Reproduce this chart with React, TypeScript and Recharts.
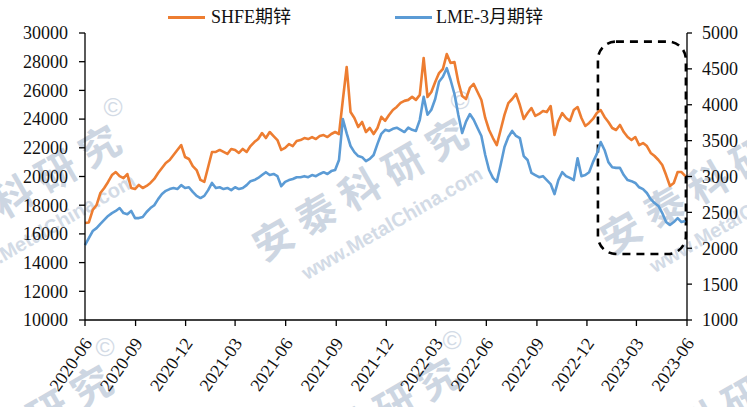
import { LineChart, Line, XAxis, YAxis, ReferenceArea } from "recharts";

// weekly closes, first week starting 2020-06-01
const startDate = "2020-06-01";

// SHFE zinc futures, CNY/t (left axis)
const shfeZinc = [
  16760, 16800, 17660, 18010, 18850, 19200, 19620, 20100, 20310, 20030,
  19890, 20170, 19200, 19130, 19410, 19200, 19340, 19550, 19830, 20240,
  20590, 20940, 21150, 21500, 21850, 22190, 21360, 21220, 20730, 20450,
  19760, 19620, 20660, 21710, 21710, 21850, 21710, 21570, 21920, 21850,
  21640, 21920, 21710, 22120, 22400, 22610, 23030, 22680, 23100, 22820,
  22540, 21850, 21990, 22260, 22120, 22470, 22540, 22680, 22610, 22750,
  22610, 22820, 22890, 22750, 22960, 23100, 22960, 25330, 27630, 24490,
  24080, 23450, 23800, 23100, 23380, 22960, 23380, 24160, 23880, 24290,
  24640, 24850, 25130, 25270, 25340, 25550, 25340, 25690, 28260, 25540,
  25890, 26590, 27210, 27490, 28530, 27910, 27980, 26590, 25610, 25400,
  26170, 26450, 25890, 25330, 24080, 23240, 22680, 22190, 23240, 24290,
  25120, 25400, 25750, 24980, 24010, 24420, 24770, 24220, 24360, 24560,
  24490, 24910, 22890, 23870, 24420, 24080, 23870, 24630, 24840, 24080,
  23520, 23730, 24010, 24420, 24630, 24150, 23800, 23380, 23240, 23590,
  23100, 22750, 22540, 22750, 22190, 22330, 22120, 21640, 21430, 21150,
  20800, 20100, 19340, 19550, 20310, 20310, 20030,
];

// LME 3-month zinc, USD/t (right axis)
const lmeZinc = [
  2045, 2140, 2240, 2280, 2340, 2395, 2450, 2490, 2520, 2560,
  2490, 2475, 2520, 2420, 2420, 2435, 2505, 2560, 2600, 2685,
  2755, 2800, 2825, 2840, 2825, 2880, 2840, 2850, 2785, 2730,
  2700, 2730, 2810, 2910, 2840, 2850, 2825, 2840, 2810, 2850,
  2825, 2840, 2880, 2935, 2950, 2980, 3020, 3060, 3020, 3035,
  3005, 2865, 2925, 2950, 2965, 2990, 2990, 3005, 2990, 3020,
  3005, 3035, 3060, 3035, 3075, 3090, 3230, 3800, 3600, 3425,
  3340, 3285, 3270, 3215, 3245, 3300, 3455, 3595, 3650, 3635,
  3665, 3680, 3650, 3620, 3680, 3650, 3635, 3790, 4110, 3860,
  3930, 4080, 4320, 4390, 4510, 4345, 4150, 3860, 3605, 3765,
  3870, 3790, 3675, 3565, 3300, 3090, 2980, 2925, 3160, 3410,
  3550, 3635, 3565, 3535, 3285, 3230, 3050, 3020, 2990, 3005,
  2950, 2895, 2755, 2950, 3060, 3005, 2980, 2950, 3255, 3005,
  3020, 3060, 3200, 3315, 3480, 3370, 3200, 3130, 3120, 3120,
  3020, 2950, 2935, 2910, 2850, 2825, 2770, 2685, 2630, 2590,
  2490, 2365, 2325, 2365, 2420, 2365, 2380,
];

const tickLabels = [
  "2020-06", "2020-09", "2020-12", "2021-03", "2021-06", "2021-09", "2021-12",
  "2022-03", "2022-06", "2022-09", "2022-12", "2023-03", "2023-06",
];
const leftTicks = [10000, 12000, 14000, 16000, 18000, 20000, 22000, 24000, 26000, 28000, 30000];
const rightTicks = [1000, 1500, 2000, 2500, 3000, 3500, 4000, 4500, 5000];

// dashed box around the latest decline
const boxDates = ["2022-12-21", "2023-05-30"];
const boxRange = [14600, 29400];

const series = [
  { key: "shfe", name: "SHFE期锌", color: "#ED7D31", axis: "left" },
  { key: "lme", name: "LME-3月期锌", color: "#5B9BD5", axis: "right" },
];

const DAY = 86400000;
const t0 = Date.parse(startDate);
const chartData = shfeZinc.map((v, i) => ({ date: t0 + i * 7 * DAY, shfe: v, lme: lmeZinc[i] }));
const xTicks = tickLabels.map((l) => Date.parse(l + "-01"));

const serif = "'Liberation Serif', 'Times New Roman', 'Noto Sans CJK SC', serif";
const W = 747;
const H = 407;

const DateTick = ({ x, y, payload }: any) => {
  const d = new Date(payload.value);
  const label = `${d.getUTCFullYear()}-${String(d.getUTCMonth() + 1).padStart(2, "0")}`;
  const ax = x + 3;
  const ay = y + 14;
  return (
    <text
      x={ax}
      y={ay}
      transform={`rotate(-55 ${ax} ${ay})`}
      textAnchor="end"
      dominantBaseline="central"
      fontSize={18}
      fontFamily={serif}
      fill="#111"
    >
      {label}
    </text>
  );
};

// faint publisher watermark tiles (centre of 科)
const marks = [
  [16, 192], [363, 185], [711, 178],
  [8, 432], [355, 425], [703, 418],
];

const Watermark = () => (
  <div style={{ position: "absolute", left: 0, top: 0, width: W, height: H, overflow: "hidden", zIndex: 0 }}>
    {marks.map(([cx, cy], i) => (
      <div key={i}>
        <div
          style={{
            position: "absolute", left: cx, top: cy, transform: "translate(-50%, -50%) rotate(-30deg)",
            whiteSpace: "nowrap", fontFamily: "'Noto Sans CJK SC', sans-serif", fontWeight: 700,
            fontSize: 40, letterSpacing: 10, color: "#cdd6e2", lineHeight: "44px",
          }}
        >
          安泰科研究
        </div>
        <div
          style={{
            position: "absolute", left: cx + 97, top: cy - 85, transform: "translate(-50%, -50%)",
            fontFamily: "'Liberation Sans', sans-serif", fontSize: 26, color: "#d3dbe6", lineHeight: "28px",
          }}
        >
          ©
        </div>
        <div
          style={{
            position: "absolute", left: cx + 29, top: cy + 38, transform: "translate(-50%, -50%) rotate(-30deg)",
            whiteSpace: "nowrap", fontFamily: "'Liberation Sans', sans-serif", fontWeight: 700,
            fontSize: 20, color: "#d3dbe6", lineHeight: "22px",
          }}
        >
          www.MetalChina.com
        </div>
      </div>
    ))}
  </div>
);

const Legend = () => (
  <div style={{ position: "absolute", left: 0, top: 0, width: W, height: 30, zIndex: 2, fontFamily: serif, fontSize: 18, color: "#111" }}>
    {series.map((s, i) => {
      const left = i === 0 ? 168 : 395;
      return (
        <div key={s.key} style={{ position: "absolute", left, top: 7, height: 20, display: "flex", alignItems: "center" }}>
          <span style={{ display: "inline-block", width: 37, height: 3, background: s.color, marginRight: i === 0 ? 6 : 4 }} />
          <span style={{ lineHeight: "20px", whiteSpace: "nowrap" }}>{s.name}</span>
        </div>
      );
    })}
  </div>
);

const App = () => {
  const axisTick = { fontSize: 18, fontFamily: serif, fill: "#111" };
  return (
    <div style={{ position: "absolute", left: 0, top: 0, width: W, height: H, background: "#fff", overflow: "hidden" }}>
      <Watermark />
      <Legend />
      <div style={{ position: "absolute", left: 0, top: 0, zIndex: 1 }}>
        <LineChart width={W} height={H} data={chartData} margin={{ top: 33, right: 0, bottom: 0, left: 0 }}>
          <XAxis
            dataKey="date"
            type="number"
            domain={[xTicks[0], xTicks[xTicks.length - 1]]}
            ticks={xTicks}
            interval={0}
            height={87}
            tick={<DateTick />}
            tickSize={6}
            tickMargin={0}
            axisLine={{ stroke: "#000", strokeWidth: 1.3 }}
            tickLine={{ stroke: "#000", strokeWidth: 1.3 }}
          />
          <YAxis
            yAxisId="left"
            domain={[10000, 30000]}
            ticks={leftTicks}
            interval={0}
            width={85}
            tickSize={6}
            tickMargin={11}
            tick={axisTick}
            axisLine={{ stroke: "#000", strokeWidth: 1.3 }}
            tickLine={{ stroke: "#000", strokeWidth: 1.3 }}
          />
          <YAxis
            yAxisId="right"
            orientation="right"
            domain={[1000, 5000]}
            ticks={rightTicks}
            interval={0}
            width={60}
            tickSize={5}
            tickMargin={10}
            tick={axisTick}
            axisLine={{ stroke: "#000", strokeWidth: 1.3 }}
            tickLine={{ stroke: "#000", strokeWidth: 1.3 }}
          />
          {series.map((s) => (
            <Line
              key={s.key}
              yAxisId={s.axis}
              dataKey={s.key}
              name={s.name}
              type="linear"
              stroke={s.color}
              strokeWidth={2.6}
              strokeLinejoin="round"
              dot={false}
              isAnimationActive={false}
            />
          ))}
          <ReferenceArea
            yAxisId="left"
            x1={Date.parse(boxDates[0])}
            x2={Date.parse(boxDates[1])}
            y1={boxRange[0]}
            y2={boxRange[1]}
            ifOverflow="visible"
            shape={(p: any) => (
              <rect
                x={p.x}
                y={p.y}
                width={p.width}
                height={p.height}
                rx={18}
                ry={18}
                fill="none"
                stroke="#000"
                strokeWidth={2.6}
                strokeDasharray="8 6"
              />
            )}
          />
        </LineChart>
      </div>
    </div>
  );
};

export default App;
